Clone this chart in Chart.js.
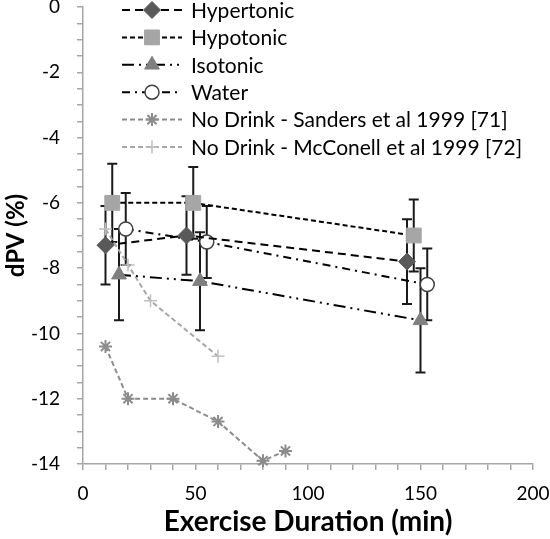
<!DOCTYPE html>
<html>
<head>
    <title>dPV vs Exercise Duration</title>
    <script src="https://cdn.jsdelivr.net/npm/chart.js"></script>
    <style>
        body { margin: 0; background: #fff; }
        #wrap { width: 550px; height: 539px; }
    </style>
</head>
<body>
    <div id="wrap">
        <canvas id="dpvChart" width="550" height="539"></canvas>
    </div>

    <script>
        // Exercise duration (min) and dPV (%) per group
        const hyperX = [10, 46, 144];
        const hyperY = [-7.3, -7.0, -7.8];
        const hyperErr = [1.2, 1.2, 1.3];

        const hypoX = [13, 49, 147];
        const hypoY = [-6.0, -6.0, -7.0];
        const hypoErr = [1.2, 1.1, 1.1];

        const isoX = [16, 52, 150];
        const isoY = [-8.2, -8.4, -9.6];
        const isoErr = [1.4, 1.5, 1.6];

        const waterX = [19, 55, 153];
        const waterY = [-6.8, -7.2, -8.5];
        const waterErr = [1.1, 1.1, 1.1];

        const sandersX = [10, 20, 40, 60, 80, 90];
        const sandersY = [-10.4, -12.0, -12.0, -12.7, -13.9, -13.6];

        const mcconellX = [10, 20, 30, 60];
        const mcconellY = [-6.8, -7.9, -9.0, -10.7];

        const xTickLabels = [0, 50, 100, 150, 200];
        const yTickLabels = [0, -2, -4, -6, -8, -10, -12, -14];

        function toPoints(xs, ys) {
            return xs.map((x, i) => ({ x: x, y: ys[i] }));
        }

        Chart.defaults.font.family = 'Lato, "Open Sans", sans-serif';
        Chart.defaults.color = '#000';

        // vertical error bars with caps, drawn below the markers
        const errorBars = {
            id: 'errorBars',
            beforeDatasetsDraw(chart) {
                const ctx = chart.ctx;
                const xs = chart.scales.x, ys = chart.scales.y;
                ctx.save();
                ctx.strokeStyle = '#1a1a1a';
                ctx.lineWidth = 2;
                chart.data.datasets.forEach(ds => {
                    if (!ds.errors) return;
                    ds.data.forEach((p, i) => {
                        const px = xs.getPixelForValue(p.x);
                        const top = ys.getPixelForValue(p.y + ds.errors[i]);
                        const bot = ys.getPixelForValue(p.y - ds.errors[i]);
                        ctx.beginPath();
                        ctx.moveTo(px, top); ctx.lineTo(px, bot);
                        ctx.moveTo(px - 5, top); ctx.lineTo(px + 5, top);
                        ctx.moveTo(px - 5, bot); ctx.lineTo(px + 5, bot);
                        ctx.stroke();
                    });
                });
                ctx.restore();
            }
        };

        // Excel style legend inside the plot area
        const innerLegend = {
            id: 'innerLegend',
            afterDraw(chart) {
                const ctx = chart.ctx;
                const x0 = 122, x1 = 182, xm = 152, tx = 191;
                let yy = 10;
                ctx.save();
                chart.data.datasets.forEach(ds => {
                    ctx.strokeStyle = ds.borderColor;
                    ctx.lineWidth = ds.borderWidth;
                    ctx.setLineDash(ds.borderDash || []);
                    ctx.beginPath();
                    ctx.moveTo(x0, yy); ctx.lineTo(x1, yy);
                    ctx.stroke();
                    ctx.setLineDash([]);
                    ctx.fillStyle = ds.pointBackgroundColor;
                    ctx.strokeStyle = ds.pointBorderColor;
                    ctx.lineWidth = ds.pointBorderWidth;
                    Chart.helpers.drawPoint(ctx, {
                        pointStyle: ds.pointStyle,
                        radius: ds.pointRadius,
                        borderWidth: ds.pointBorderWidth,
                        rotation: 0
                    }, xm, yy);
                    ctx.fillStyle = '#000';
                    ctx.font = '21px Lato, "Open Sans", sans-serif';
                    ctx.textBaseline = 'middle';
                    ctx.fillText(ds.label, tx, yy + 1);
                    yy += 27.4;
                });
                ctx.restore();
            }
        };

        const ctx = document.getElementById('dpvChart').getContext('2d');
        const chart = new Chart(ctx, {
            type: 'scatter',
            data: {
                datasets: [
                    {
                        label: 'Hypertonic',
                        data: toPoints(hyperX, hyperY),
                        errors: hyperErr,
                        showLine: true,
                        borderColor: '#000',
                        borderWidth: 2,
                        borderDash: [8, 5],
                        pointStyle: 'rectRot',
                        pointRadius: 8.5,
                        pointBackgroundColor: '#595959',
                        pointBorderColor: '#595959',
                        pointBorderWidth: 1
                    },
                    {
                        label: 'Hypotonic',
                        data: toPoints(hypoX, hypoY),
                        errors: hypoErr,
                        showLine: true,
                        borderColor: '#000',
                        borderWidth: 2,
                        borderDash: [5, 3],
                        pointStyle: 'rect',
                        pointRadius: 10.5,
                        pointBackgroundColor: '#a6a6a6',
                        pointBorderColor: '#a6a6a6',
                        pointBorderWidth: 1
                    },
                    {
                        label: 'Isotonic',
                        data: toPoints(isoX, isoY),
                        errors: isoErr,
                        showLine: true,
                        borderColor: '#000',
                        borderWidth: 2,
                        borderDash: [12, 5, 2, 5, 2, 5],
                        pointStyle: 'triangle',
                        pointRadius: 8.5,
                        pointBackgroundColor: '#7f7f7f',
                        pointBorderColor: '#7f7f7f',
                        pointBorderWidth: 1
                    },
                    {
                        label: 'Water',
                        data: toPoints(waterX, waterY),
                        errors: waterErr,
                        showLine: true,
                        borderColor: '#000',
                        borderWidth: 2,
                        borderDash: [8, 5, 2, 5],
                        pointStyle: 'circle',
                        pointRadius: 7,
                        pointBackgroundColor: '#fff',
                        pointBorderColor: '#404040',
                        pointBorderWidth: 1.5
                    },
                    {
                        label: 'No Drink - Sanders et al 1999 [71]',
                        data: toPoints(sandersX, sandersY),
                        showLine: true,
                        borderColor: '#8c8c8c',
                        borderWidth: 2,
                        borderDash: [5, 3],
                        pointStyle: 'star',
                        pointRadius: 6.5,
                        pointBackgroundColor: '#8c8c8c',
                        pointBorderColor: '#8c8c8c',
                        pointBorderWidth: 2
                    },
                    {
                        label: 'No Drink - McConell et al 1999 [72]',
                        data: toPoints(mcconellX, mcconellY),
                        showLine: true,
                        borderColor: '#a6a6a6',
                        borderWidth: 2,
                        borderDash: [5, 3],
                        pointStyle: 'cross',
                        pointRadius: 6.5,
                        pointBackgroundColor: '#bfbfbf',
                        pointBorderColor: '#bfbfbf',
                        pointBorderWidth: 1.5
                    }
                ].map(ds => Object.assign(ds, { clip: false, pointHoverRadius: ds.pointRadius }))
            },
            options: {
                responsive: false,
                animation: false,
                events: [],
                layout: { autoPadding: false, padding: { top: 7, right: 17, bottom: 0, left: 0 } },
                plugins: {
                    legend: { display: false },
                    tooltip: { enabled: false }
                },
                scales: {
                    x: {
                        type: 'linear',
                        min: 0,
                        max: 200,
                        afterFit(scale) {
                            scale.height = 75;
                            scale.paddingLeft = 0;
                            scale.paddingRight = 0;
                        },
                        ticks: {
                            stepSize: 10,
                            autoSkip: false,
                            maxRotation: 0,
                            padding: 12,
                            font: { size: 19 },
                            color: '#000',
                            callback: v => xTickLabels.includes(v) ? String(v) : ''
                        },
                        grid: { drawOnChartArea: false, tickLength: 6, color: '#a6a6a6', lineWidth: 1.5 },
                        border: { color: '#a6a6a6', width: 1.5 },
                        title: {
                            display: true,
                            text: 'Exercise Duration (min)',
                            font: { size: 28, weight: 'bold' },
                            color: '#000',
                            padding: { top: 0, bottom: 0 }
                        }
                    },
                    y: {
                        type: 'linear',
                        min: -14,
                        max: 0,
                        afterFit(scale) {
                            scale.width = 83;
                            scale.paddingTop = 0;
                            scale.paddingBottom = 0;
                        },
                        ticks: {
                            stepSize: 0.5,
                            autoSkip: false,
                            padding: 17,
                            font: { size: 19 },
                            color: '#000',
                            callback: v => yTickLabels.includes(v) ? String(v) : ''
                        },
                        grid: { drawOnChartArea: false, tickLength: 6, color: '#a6a6a6', lineWidth: 1.5 },
                        border: { color: '#a6a6a6', width: 1.5 },
                        title: {
                            display: true,
                            text: 'dPV (%)',
                            font: { size: 24, weight: 'bold' },
                            color: '#000',
                            padding: { top: 2, bottom: 4 }
                        }
                    }
                }
            },
            plugins: [errorBars, innerLegend]
        });
    </script>
</body>
</html>
